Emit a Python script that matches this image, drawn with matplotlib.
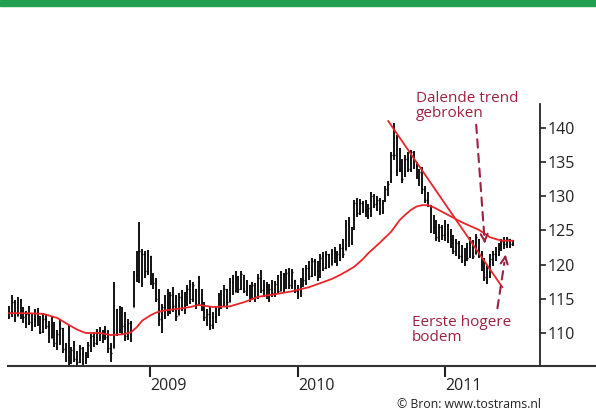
import numpy as np
import pandas as pd
import matplotlib
matplotlib.use("Agg")
import matplotlib.pyplot as plt
import matplotlib.dates as mdates
from matplotlib.patches import Rectangle

plt.rcParams['font.family'] = ['Open Sans', 'DejaVu Sans']

# weekly bars, first week ending 2008-01-18
weeks = pd.date_range('2008-01-18', periods=179, freq='7D')

high = [114.0, 115.5, 114.8, 115.3, 115.0, 113.8, 113.2, 113.9, 112.8, 113.5,
        113.6, 112.5, 112.9, 112.6, 111.8, 112.3, 111.6, 110.5, 111.9, 110.8,
        108.6, 111.2, 108.0, 108.8, 107.4, 108.2, 107.9, 107.2, 108.7, 109.8,
        110.2, 110.6, 110.9, 110.5, 111.0, 110.4, 108.6, 117.5, 113.5, 114.0,
        113.8, 113.0, 112.0, 111.8, 119.0, 122.0, 126.2, 122.3, 122.0, 122.2,
        121.3, 118.8, 118.0, 116.5, 114.3, 115.5, 116.5, 116.0, 116.7, 115.5,
        115.8, 116.3, 116.0, 117.0, 117.8, 117.5, 116.5, 118.3, 116.5, 114.5,
        113.5, 113.8, 113.0, 114.0, 115.8, 116.3, 117.0, 116.5, 118.0, 118.5,
        119.0, 118.3, 119.0, 118.5, 117.8, 117.0, 117.5, 117.3, 118.6, 119.2,
        117.8, 117.5, 117.2, 117.8, 117.6, 118.5, 119.0, 118.8, 119.3, 119.5,
        119.4, 117.8, 117.0, 118.0, 119.5, 120.0, 120.6, 121.0, 120.8, 120.5,
        121.5, 121.8, 122.0, 121.6, 122.3, 122.6, 122.0, 123.0, 123.8, 126.5,
        127.0, 125.5, 129.5, 129.8, 129.6, 129.3, 129.5, 128.8, 130.6, 130.4,
        130.0, 129.8, 129.5, 131.5, 132.2, 136.5, 140.7, 139.0, 137.0, 135.5,
        136.0, 136.5, 136.8, 136.6, 135.0, 134.0, 134.3, 131.5, 130.6, 128.7,
        127.3, 126.5, 126.0, 125.8, 126.6, 126.0, 125.2, 124.3, 123.8, 123.5,
        122.8, 122.5, 123.2, 124.0, 123.6, 124.5, 123.7, 122.0, 121.0, 120.0,
        121.5, 122.0, 122.6, 123.2, 123.8, 124.0, 124.0, 123.8, 123.6]

low = [112.0, 112.3, 111.6, 112.5, 112.0, 111.5, 110.8, 111.2, 110.3, 110.9,
       111.0, 109.8, 110.0, 110.6, 108.6, 109.2, 108.0, 107.5, 108.2, 107.0,
       105.8, 105.3, 105.4, 105.8, 105.3, 105.6, 105.3, 105.4, 106.4, 107.2,
       108.0, 108.3, 108.8, 108.5, 109.0, 107.0, 105.8, 107.8, 109.5, 110.0,
       109.9, 108.8, 109.0, 108.7, 113.8, 117.5, 117.3, 116.8, 118.0, 118.5,
       117.0, 116.5, 114.5, 111.0, 110.0, 112.0, 112.5, 112.8, 113.0, 111.8,
       112.6, 113.2, 112.8, 114.0, 114.2, 114.5, 113.5, 114.0, 113.2, 111.8,
       111.0, 110.5, 110.6, 111.5, 112.5, 113.5, 114.0, 113.5, 114.5, 115.5,
       116.0, 115.8, 116.3, 115.8, 115.4, 114.5, 114.8, 114.6, 115.0, 115.8,
       115.3, 115.0, 114.6, 115.2, 115.3, 115.7, 116.2, 116.0, 116.4, 116.5,
       116.4, 115.8, 115.0, 115.2, 116.8, 117.0, 117.8, 118.2, 118.4, 117.6,
       118.0, 119.0, 119.3, 119.5, 120.0, 120.3, 119.8, 120.5, 121.0, 122.2,
       122.6, 122.8, 125.0, 127.0, 127.2, 127.5, 127.0, 126.7, 127.0, 128.3,
       127.8, 127.2, 127.4, 129.2, 130.0, 132.0, 135.3, 133.0, 133.5, 132.0,
       132.8, 133.5, 133.6, 134.0, 132.5, 131.5, 130.3, 129.0, 128.4, 124.6,
       124.5, 123.5, 123.3, 123.6, 123.4, 123.2, 122.5, 121.6, 121.2, 120.8,
       120.2, 119.8, 120.5, 121.0, 120.8, 121.5, 121.0, 119.0, 117.6, 117.2,
       118.0, 119.8, 120.5, 121.3, 122.0, 122.3, 122.5, 122.4, 122.7]

close = [113.0, 114.5, 112.2, 114.8, 113.0, 112.3, 112.8, 111.6, 112.0, 113.0,
         111.5, 110.2, 112.0, 111.0, 109.0, 111.5, 108.5, 109.8, 110.8, 107.6,
         106.5, 106.0, 107.5, 106.2, 105.8, 107.8, 106.0, 106.8, 108.3, 109.5,
         108.6, 110.2, 109.5, 110.0, 109.4, 107.8, 107.0, 116.0, 110.5, 113.0,
         111.0, 109.5, 111.5, 110.5, 118.5, 120.5, 122.0, 121.5, 119.0, 121.5,
         118.0, 117.3, 115.0, 112.0, 113.8, 114.5, 113.0, 115.5, 114.0, 112.5,
         115.2, 114.0, 115.5, 116.5, 115.0, 117.0, 114.2, 115.0, 113.8, 112.3,
         112.8, 111.2, 112.5, 113.5, 115.0, 114.0, 116.5, 114.5, 117.5, 116.0,
         118.5, 116.5, 118.7, 116.2, 117.2, 115.0, 117.0, 115.2, 118.0, 116.3,
         116.8, 115.5, 116.5, 115.8, 117.2, 116.2, 118.6, 116.6, 118.8, 117.0,
         118.9, 116.2, 116.5, 117.5, 117.8, 119.5, 118.3, 120.5, 119.0, 118.0,
         121.0, 119.5, 121.5, 120.0, 121.8, 120.8, 121.5, 122.5, 121.5, 126.0,
         123.2, 125.0, 129.0, 127.5, 129.0, 128.0, 127.4, 128.3, 130.0, 128.8,
         129.5, 127.8, 129.0, 131.0, 131.8, 136.0, 136.0, 134.0, 136.5, 132.5,
         135.5, 134.0, 136.5, 134.5, 133.0, 133.5, 131.0, 129.5, 128.8, 125.5,
         126.8, 124.0, 125.5, 124.3, 126.0, 123.8, 123.0, 122.0, 123.2, 121.3,
         120.7, 122.0, 121.0, 123.5, 121.3, 124.0, 121.5, 119.5, 118.2, 119.5,
         120.8, 121.5, 122.3, 122.8, 123.5, 123.0, 123.8, 123.0, 123.2]

# moving average (week number, value)
ma_week = [0, 6, 12, 17, 21, 24, 27, 32, 36, 40, 43, 45, 47, 50, 52, 55, 57,
           61, 64, 67, 72, 78, 83, 88, 93, 100, 106, 110, 114, 117, 120, 122,
           125, 127, 131, 135, 138, 140, 142, 144, 146, 148, 150, 155, 160,
           166, 170, 174, 178]
ma_value = [112.9, 112.9, 112.8, 112.2, 111.2, 110.5, 110.0, 110.0, 109.7,
            109.8, 110.1, 110.8, 111.8, 112.6, 113.0, 113.3, 113.4, 113.6,
            113.8, 114.1, 113.8, 113.9, 114.5, 115.3, 115.6, 116.1, 116.7,
            117.3, 117.9, 118.5, 119.2, 119.7, 120.8, 121.7, 123.2, 124.8,
            126.5, 127.3, 128.0, 128.5, 128.7, 128.7, 128.4, 127.3, 126.2,
            125.1, 124.0, 123.5, 123.5]

# falling trend line
trend_dates = ['2010-08-13', '2011-05-22']
trend_values = [141.0, 116.7]

year_ticks = ['2009-01-01', '2010-01-01', '2011-01-01']
year_labels = ['2009', '2010', '2011']
price_ticks = [110, 115, 120, 125, 130, 135, 140]

W, H = 596, 411
fig = plt.figure(figsize=(W / 100, H / 100), dpi=100)
fig.patches.append(Rectangle((0, 1 - 6 / H), 1, 6 / H, transform=fig.transFigure,
                             color='#21a04f', zorder=0))

ax = fig.add_axes([8 / W, 45 / H, 588 / W, 262 / H])
x = mdates.date2num(weeks)
# open taken as previous close, kept inside the bar's range
opn = np.clip([close[0]] + close[:-1], low, high)

ax.vlines(x, low, high, color='black', lw=1.3)
ax.hlines(opn, x - 1.5, x, color='black', lw=1.0)
ax.hlines(close, x, x + 1.5, color='black', lw=1.0)

ax.plot(x[ma_week], ma_value, color='#e8262a', lw=1.3)
ax.plot(mdates.date2num(pd.to_datetime(trend_dates)), trend_values,
        color='#e8262a', lw=1.3)

ax.set_xlim(mdates.date2num(pd.Timestamp('2008-01-15')),
            mdates.date2num(pd.Timestamp('2012-01-09')))
ax.set_ylim(105.17, 143.5)

for s in ['top', 'left']:
    ax.spines[s].set_visible(False)
ax.spines['right'].set_position(('axes', 532 / 588))
ax.spines['right'].set_color('#222222')
ax.spines['bottom'].set_color('#333333')
ax.spines['right'].set_linewidth(1.3)
ax.spines['bottom'].set_linewidth(1.5)

ax.yaxis.tick_right()
ax.set_yticks(price_ticks)
ax.tick_params(axis='y', length=4, width=1.2, pad=1.5, labelsize=11.5,
               colors='#222222')
ax.set_xticks(mdates.date2num(pd.to_datetime(year_ticks)))
ax.set_xticklabels(year_labels)
ax.tick_params(axis='x', length=8, width=1.5, pad=0.5, labelsize=11.5,
               colors='#222222')
for lab in ax.get_xticklabels():
    lab.set_ha('left')

red = '#9e2140'
fig.text(416 / W, 1 - 91 / H, 'Dalende trend\ngebroken', color=red,
         fontsize=11, va='top', ha='left', linespacing=1.0)
fig.text(412 / W, 1 - 315 / H, 'Eerste hogere\nbodem', color=red,
         fontsize=11, va='top', ha='left', linespacing=1.0)
fig.text(397 / W, 1 - 398 / H, '\u00a9 Bron: www.tostrams.nl', color='#222222',
         fontsize=8.8, va='top', ha='left')

# dashed arrows in figure pixels
def arrow(x0, y0, x1, y1):
    dx, dy = x1 - x0, y1 - y0
    n = np.hypot(dx, dy)
    bx, by = x1 - dx / n * 8, y1 - dy / n * 8
    ax.annotate('', xy=(bx, H - by), xytext=(x0, H - y0),
                xycoords='figure pixels', textcoords='figure pixels',
                arrowprops=dict(arrowstyle='-', color=red, lw=1.5,
                                linestyle=(0, (4, 3))))
    ax.annotate('', xy=(x1, H - y1), xytext=(bx, H - by),
                xycoords='figure pixels', textcoords='figure pixels',
                arrowprops=dict(arrowstyle='->,head_length=0.5,head_width=0.25',
                                color=red, lw=1.5))

arrow(476, 122, 485, 246)
arrow(497, 311, 506, 252)

fig.savefig('out.png', dpi=100)
